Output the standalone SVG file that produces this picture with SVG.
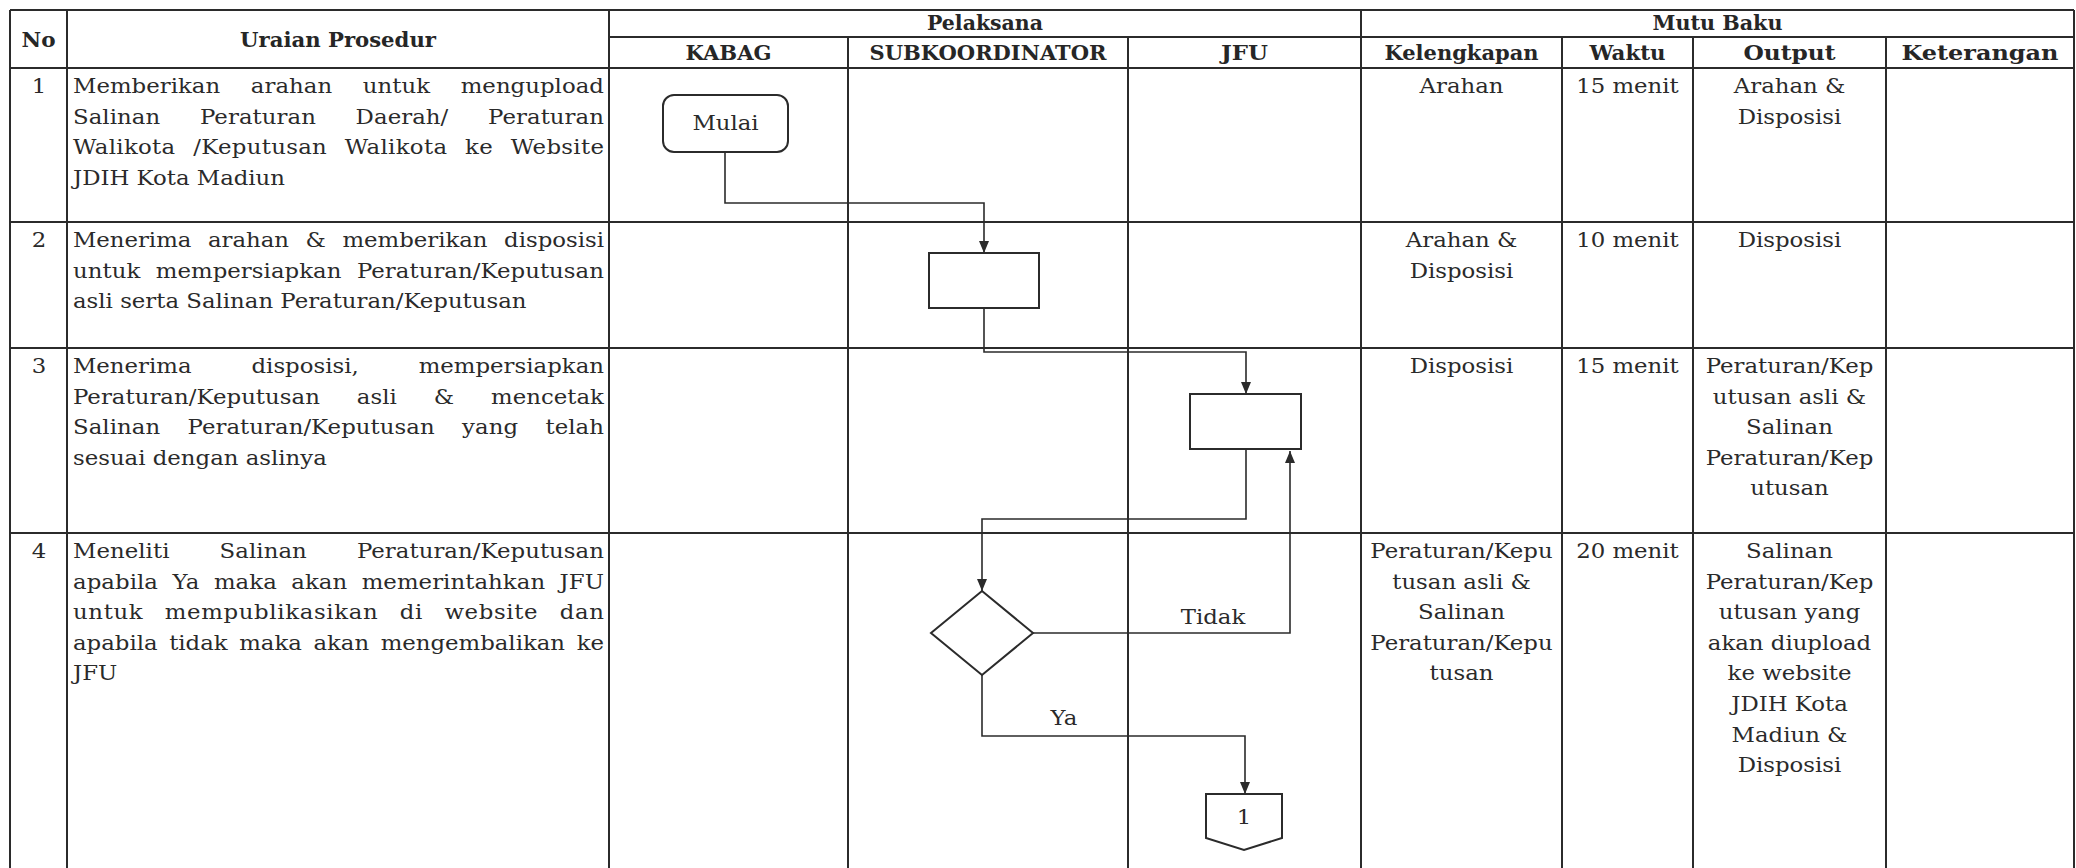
<svg xmlns="http://www.w3.org/2000/svg" width="2076" height="868" viewBox="0 0 2076 868">
<defs>
<style>
.ln{stroke:#2b2b2b;stroke-width:2;fill:none}
.h{font-family:"DejaVu Serif","Liberation Serif",serif;font-weight:bold;font-size:20.5px;fill:#262626;text-anchor:middle}
.t{font-family:"DejaVu Serif","Liberation Serif",serif;font-size:19.5px;fill:#2a2a2a}
.c{text-anchor:middle}
.e{text-anchor:end}
.shape{fill:#fff;stroke:#2b2b2b;stroke-width:2}
.conn{fill:none;stroke:#2b2b2b;stroke-width:1.6}
</style>
<marker id="ah" viewBox="0 0 12 10" refX="12" refY="5" markerWidth="12" markerHeight="10" markerUnits="userSpaceOnUse" orient="auto">
<path d="M0,0 L12,5 L0,10 z" fill="#2b2b2b"/>
</marker>
</defs>
<rect width="2076" height="868" fill="#fff"/>

<g id="table">
<line class="ln" x1="10" y1="10" x2="2074" y2="10"/>
<line class="ln" x1="609" y1="37" x2="2074" y2="37"/>
<line class="ln" x1="10" y1="68" x2="2074" y2="68"/>
<line class="ln" x1="10" y1="222" x2="2074" y2="222"/>
<line class="ln" x1="10" y1="348" x2="2074" y2="348"/>
<line class="ln" x1="10" y1="533" x2="2074" y2="533"/>
<line class="ln" x1="10" y1="10" x2="10" y2="868"/>
<line class="ln" x1="67" y1="10" x2="67" y2="868"/>
<line class="ln" x1="609" y1="10" x2="609" y2="868"/>
<line class="ln" x1="848" y1="37" x2="848" y2="868"/>
<line class="ln" x1="1128" y1="37" x2="1128" y2="868"/>
<line class="ln" x1="1361" y1="10" x2="1361" y2="868"/>
<line class="ln" x1="1562" y1="37" x2="1562" y2="868"/>
<line class="ln" x1="1693" y1="37" x2="1693" y2="868"/>
<line class="ln" x1="1886" y1="37" x2="1886" y2="868"/>
<line class="ln" x1="2074" y1="10" x2="2074" y2="868"/>
</g>

<g id="header">
<text class="h" x="38.5" y="47" textLength="34" lengthAdjust="spacingAndGlyphs">No</text>
<text class="h" x="338" y="47" textLength="196" lengthAdjust="spacingAndGlyphs">Uraian Prosedur</text>
<text class="h" x="985" y="30" textLength="116" lengthAdjust="spacingAndGlyphs">Pelaksana</text>
<text class="h" x="1717.5" y="30" textLength="130" lengthAdjust="spacingAndGlyphs">Mutu Baku</text>
<text class="h" x="728.5" y="60" textLength="86" lengthAdjust="spacingAndGlyphs">KABAG</text>
<text class="h" x="988" y="60" textLength="237" lengthAdjust="spacingAndGlyphs">SUBKOORDINATOR</text>
<text class="h" x="1244.5" y="60" textLength="47" lengthAdjust="spacingAndGlyphs">JFU</text>
<text class="h" x="1461.5" y="60" textLength="154" lengthAdjust="spacingAndGlyphs">Kelengkapan</text>
<text class="h" x="1627.5" y="60" textLength="76" lengthAdjust="spacingAndGlyphs">Waktu</text>
<text class="h" x="1789.5" y="60" textLength="92" lengthAdjust="spacingAndGlyphs">Output</text>
<text class="h" x="1980" y="60" textLength="157" lengthAdjust="spacingAndGlyphs">Keterangan</text>
</g>

<g id="row1">
<text class="t c" transform="translate(39 93) scale(1.17 1)">1</text>
<text class="t" transform="translate(73 93) scale(1.17 1)" textLength="453.8" lengthAdjust="spacing" word-spacing="20">Memberikan arahan untuk mengupload</text>
<text class="t" transform="translate(73 123.6) scale(1.17 1)" textLength="453.8" lengthAdjust="spacing" word-spacing="27.7">Salinan Peraturan Daerah/ Peraturan</text>
<text class="t" transform="translate(73 154.2) scale(1.17 1)" textLength="453.8" lengthAdjust="spacing" word-spacing="8.7">Walikota /Keputusan Walikota ke Website</text>
<text class="t" transform="translate(73 184.8) scale(1.17 1)">JDIH Kota Madiun</text>
<text class="t c" transform="translate(1461.5 93) scale(1.17 1)">Arahan</text>
<text class="t c" transform="translate(1627.5 93) scale(1.17 1)">15 menit</text>
<text class="t c" transform="translate(1789.5 93) scale(1.17 1)">Arahan &amp;</text>
<text class="t c" transform="translate(1789.5 123.6) scale(1.17 1)">Disposisi</text>
</g>

<g id="row2">
<text class="t c" transform="translate(39 247) scale(1.17 1)">2</text>
<text class="t" transform="translate(73 247) scale(1.17 1)" textLength="453.8" lengthAdjust="spacing" word-spacing="8">Menerima arahan &amp; memberikan disposisi</text>
<text class="t" transform="translate(73 277.6) scale(1.17 1)" textLength="453.8" lengthAdjust="spacing" word-spacing="7">untuk mempersiapkan Peraturan/Keputusan</text>
<text class="t" transform="translate(73 308.2) scale(1.17 1)">asli serta Salinan Peraturan/Keputusan</text>
<text class="t c" transform="translate(1461.5 247) scale(1.17 1)">Arahan &amp;</text>
<text class="t c" transform="translate(1461.5 277.6) scale(1.17 1)">Disposisi</text>
<text class="t c" transform="translate(1627.5 247) scale(1.17 1)">10 menit</text>
<text class="t c" transform="translate(1789.5 247) scale(1.17 1)">Disposisi</text>
</g>

<g id="row3">
<text class="t c" transform="translate(39 373) scale(1.17 1)">3</text>
<text class="t" transform="translate(73 373) scale(1.17 1)" textLength="453.8" lengthAdjust="spacing" word-spacing="45">Menerima disposisi, mempersiapkan</text>
<text class="t" transform="translate(73 403.6) scale(1.17 1)" textLength="453.8" lengthAdjust="spacing" word-spacing="25.3">Peraturan/Keputusan asli &amp; mencetak</text>
<text class="t" transform="translate(73 434.2) scale(1.17 1)" textLength="453.8" lengthAdjust="spacing" word-spacing="17.2">Salinan Peraturan/Keputusan yang telah</text>
<text class="t" transform="translate(73 464.8) scale(1.17 1)">sesuai dengan aslinya</text>
<text class="t c" transform="translate(1461.5 373) scale(1.17 1)">Disposisi</text>
<text class="t c" transform="translate(1627.5 373) scale(1.17 1)">15 menit</text>
<text class="t c" transform="translate(1789.5 373) scale(1.17 1)">Peraturan/Kep</text>
<text class="t c" transform="translate(1789.5 403.6) scale(1.17 1)">utusan asli &amp;</text>
<text class="t c" transform="translate(1789.5 434.2) scale(1.17 1)">Salinan</text>
<text class="t c" transform="translate(1789.5 464.8) scale(1.17 1)">Peraturan/Kep</text>
<text class="t c" transform="translate(1789.5 495.4) scale(1.17 1)">utusan</text>
</g>

<g id="row4">
<text class="t c" transform="translate(39 558) scale(1.17 1)">4</text>
<text class="t" transform="translate(73 558) scale(1.17 1)" textLength="453.8" lengthAdjust="spacing" word-spacing="36.6">Meneliti Salinan Peraturan/Keputusan</text>
<text class="t" transform="translate(73 588.6) scale(1.17 1)" textLength="453.8" lengthAdjust="spacing" word-spacing="6.1">apabila Ya maka akan memerintahkan JFU</text>
<text class="t" transform="translate(73 619.2) scale(1.17 1)" textLength="453.8" lengthAdjust="spacing" word-spacing="11.6">untuk mempublikasikan di website dan</text>
<text class="t" transform="translate(73 649.8) scale(1.17 1)" textLength="453.8" lengthAdjust="spacing" word-spacing="3.7">apabila tidak maka akan mengembalikan ke</text>
<text class="t" transform="translate(73 680.4) scale(1.17 1)">JFU</text>
<text class="t c" transform="translate(1461.5 558) scale(1.17 1)">Peraturan/Kepu</text>
<text class="t c" transform="translate(1461.5 588.6) scale(1.17 1)">tusan asli &amp;</text>
<text class="t c" transform="translate(1461.5 619.2) scale(1.17 1)">Salinan</text>
<text class="t c" transform="translate(1461.5 649.8) scale(1.17 1)">Peraturan/Kepu</text>
<text class="t c" transform="translate(1461.5 680.4) scale(1.17 1)">tusan</text>
<text class="t c" transform="translate(1627.5 558) scale(1.17 1)">20 menit</text>
<text class="t c" transform="translate(1789.5 558) scale(1.17 1)">Salinan</text>
<text class="t c" transform="translate(1789.5 588.6) scale(1.17 1)">Peraturan/Kep</text>
<text class="t c" transform="translate(1789.5 619.2) scale(1.17 1)">utusan yang</text>
<text class="t c" transform="translate(1789.5 649.8) scale(1.17 1)">akan diupload</text>
<text class="t c" transform="translate(1789.5 680.4) scale(1.17 1)">ke website</text>
<text class="t c" transform="translate(1789.5 711) scale(1.17 1)">JDIH Kota</text>
<text class="t c" transform="translate(1789.5 741.6) scale(1.17 1)">Madiun &amp;</text>
<text class="t c" transform="translate(1789.5 772.2) scale(1.17 1)">Disposisi</text>
</g>

<g id="connectors">
<polyline class="conn" points="725,152 725,203 984,203 984,253" marker-end="url(#ah)"/>
<polyline class="conn" points="984,308 984,352 1246,352 1246,394" marker-end="url(#ah)"/>
<polyline class="conn" points="1246,449 1246,519 982,519 982,591" marker-end="url(#ah)"/>
<polyline class="conn" points="1033,633 1290,633 1290,451" marker-end="url(#ah)"/>
<polyline class="conn" points="982,675 982,736 1245,736 1245,794" marker-end="url(#ah)"/>
<text class="t c" transform="translate(1213 624) scale(1.17 1)">Tidak</text>
<text class="t c" transform="translate(1064 725) scale(1.17 1)">Ya</text>
</g>

<g id="node-mulai">
<rect class="shape" x="663" y="95" width="125" height="57" rx="11"/>
<text class="t c" transform="translate(725.5 130) scale(1.17 1)">Mulai</text>
</g>
<g id="node-step2">
<rect class="shape" x="929" y="253" width="110" height="55"/>
</g>
<g id="node-step3">
<rect class="shape" x="1190" y="394" width="111" height="55"/>
</g>
<g id="node-decision">
<polygon class="shape" points="982,591 1033,633 982,675 931,633"/>
</g>
<g id="node-offpage">
<polygon class="shape" points="1206,794 1282,794 1282,838 1244,850 1206,838"/>
<text class="t c" transform="translate(1244 824) scale(1.17 1)">1</text>
</g>
</svg>
